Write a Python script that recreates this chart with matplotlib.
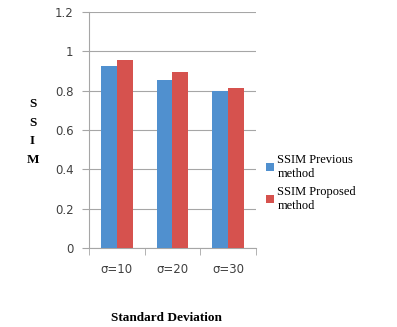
import numpy as np
import matplotlib.pyplot as plt

categories = ['σ=10', 'σ=20', 'σ=30']
previous = [0.925, 0.855, 0.80]
proposed = [0.955, 0.895, 0.815]
series_names = ['SSIM Previous\nmethod', 'SSIM Proposed\nmethod']

blue = '#5090cf'
red = '#d6524e'
grid_col = '#a6a6a6'

fig = plt.figure(figsize=(3.97, 3.27), dpi=100)
ax = fig.add_axes([0.224, 0.2416, 0.421, 0.7214])

x = np.arange(len(categories))
w = 0.287
b1 = ax.bar(x - w / 2, previous, w, color=blue, zorder=3)
b2 = ax.bar(x + w / 2, proposed, w, color=red, zorder=3)

ax.set_xlim(-0.5, 2.5)
ax.set_ylim(0, 1.2)
ax.set_yticks([0, 0.2, 0.4, 0.6, 0.8, 1, 1.2])
ax.set_yticklabels(['0', '0.2', '0.4', '0.6', '0.8', '1', '1.2'], fontsize=8.5, color='#404040')
ax.yaxis.grid(True, color=grid_col, linewidth=0.8, zorder=0)
ax.tick_params(axis='y', length=5, color=grid_col, pad=6)

# category boundaries as ticks
ax.set_xticks([-0.5, 0.5, 1.5, 2.5], minor=True)
ax.set_xticks(x)
ax.set_xticklabels(categories, fontsize=8.5, color='#404040')
ax.tick_params(axis='x', which='major', length=0, pad=11)
ax.tick_params(axis='x', which='minor', length=5, color=grid_col)

for s in ['top', 'right']:
    ax.spines[s].set_visible(False)
for s in ['left', 'bottom']:
    ax.spines[s].set_color(grid_col)

fig.text(0.42, 0.027, 'Standard Deviation', ha='center', va='center',
         fontsize=9.5, fontweight='bold', family='Liberation Serif')
fig.text(0.082, 0.596, 'S\nS\nI\nM', ha='center', va='center', linespacing=1.75,
         fontsize=9.5, fontweight='bold', family='Liberation Serif')

fig.legend([b1, b2], series_names, loc='center left', bbox_to_anchor=(0.642, 0.44),
           frameon=False, prop={'family': 'Liberation Serif', 'size': 9},
           handlelength=0.6, handleheight=0.6, handletextpad=0.3, labelspacing=0.5)

fig.savefig('out.png', dpi=100)
